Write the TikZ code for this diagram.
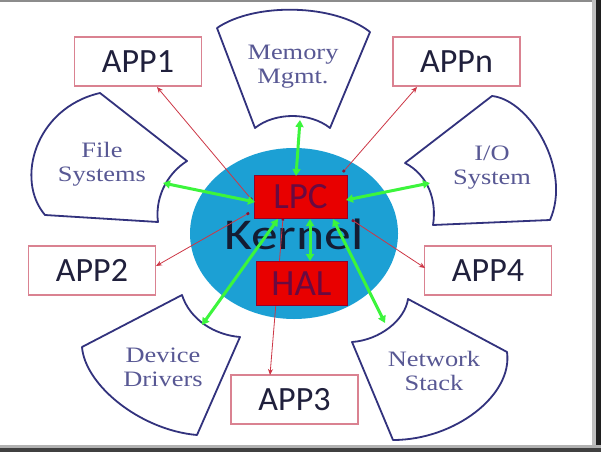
\documentclass[tikz,border=0pt]{standalone}
\usepackage{fontspec}
\setmainfont{Liberation Serif}
\newfontfamily\appfont{Carlito}
\newfontfamily\kernfont[FakeStretch=1.22]{Carlito}
\newfontfamily\blobfont[FakeStretch=1.2]{Liberation Serif}
\usetikzlibrary{arrows.meta}
\definecolor{kblue}{RGB}{28,160,212}
\definecolor{appred}{RGB}{218,130,145}
\definecolor{apptext}{RGB}{32,32,60}
\definecolor{linkred}{RGB}{205,55,70}
\definecolor{dotred}{RGB}{140,20,50}
\definecolor{gline}{RGB}{60,245,60}
\definecolor{blobline}{RGB}{50,50,125}
\definecolor{blobtext}{RGB}{88,88,148}
\definecolor{boxred}{RGB}{232,0,0}
\definecolor{boxedge}{RGB}{150,0,40}
\definecolor{boxtext}{RGB}{105,10,65}
\definecolor{kerntext}{RGB}{20,28,50}
\tikzset{
  appbox/.style={draw=appred, line width=1.2pt, fill=white, minimum width=127pt, minimum height=49pt,
    inner sep=0pt, text=apptext, font=\appfont\fontsize{34}{34}\selectfont},
  redbox/.style={draw=boxedge, line width=0.8pt, fill=boxred, inner sep=0pt, text=boxtext,
    font=\appfont\fontsize{37}{37}\selectfont},
  blob/.style={draw=blobline, line width=1.8pt, fill=white, line join=round},
  blobtxt/.style={text=blobtext, align=center, font=\blobfont\fontsize{22}{24}\selectfont},
  redlink/.style={draw=linkred, line width=0.8pt, {Square[length=2.5pt,width=2.5pt,fill=dotred,color=dotred]}-{Stealth[length=6pt,width=5pt]}},
  greenlink/.style={draw=gline, line width=3pt, {Triangle[length=7pt,width=8pt]}-{Triangle[length=7pt,width=8pt]}}
}
\begin{document}
\begin{tikzpicture}[x=1pt,y=-1pt]
\useasboundingbox (0,0) rectangle (601,452);
\fill[white] (0,0) rectangle (601,452);
% frame
\fill[black!45] (0,0) rectangle (601,2.5);
\fill[black!25] (592,0) rectangle (596,452);
\fill[black!88] (596,0) rectangle (601,452);
\fill[black!30] (0,445) rectangle (601,447.5);
\fill[black!75] (0,447.5) rectangle (601,452);

% blobs
\draw[blob] (217,28) .. controls (255,2) and (335,4) .. (370,32) -- (330,128)
  .. controls (310,112) and (275,112) .. (255,128) -- cycle;
\draw[blob] (100,93) -- (187,161) .. controls (165,175) and (155,200) .. (158,222)
  -- (45,215) .. controls (15,180) and (35,108) .. cycle;
\draw[blob] (405,163) -- (492,96) .. controls (530,100) and (572,170) .. (550,220)
  -- (433,225) .. controls (437,200) and (428,175) .. cycle;
\draw[blob] (182,295) .. controls (190,320) and (215,335) .. (240,337) -- (197,435)
  .. controls (140,430) and (85,385) .. (82,347) -- cycle;
\draw[blob] (352,342) .. controls (380,340) and (405,320) .. (408,299) -- (507,352)
  .. controls (513,395) and (455,440) .. (393,440) -- cycle;

\node[blobtxt] (mem) at (293,67) {Memory\\Mgmt.};
\node[blobtxt] (fs) at (102,164) {File\\Systems};
\node[blobtxt] (io) at (492,168) {I/O\\System};
\node[blobtxt] (dd) at (163,367) {Device\\Drivers};
\node[blobtxt] (ns) at (434,371) {Network\\Stack};

% kernel
\fill[kblue] (294,233.5) ellipse [x radius=104, y radius=85.5];
\node[anchor=base, text=kerntext, inner sep=0pt, font=\kernfont\fontsize{44}{44}\selectfont] (kernel) at (294,249) {Kernel};

% app boxes
\node[appbox] (app1) at (138,61.5) {APP1};
\node[appbox] (appn) at (456.5,61.5) {APPn};
\node[appbox] (app2) at (92,270.5) {APP2};
\node[appbox] (app4) at (488,270.5) {APP4};
\node[appbox] (app3) at (294.5,399.5) {APP3};

% connection points
\coordinate (l1) at (252,200);
\coordinate (ln) at (343,172);
\coordinate (l2) at (249,213);
\coordinate (l4) at (352,220);
\coordinate (l3) at (283,218);
\coordinate (a1) at (157,87);
\coordinate (an) at (417,87);
\coordinate (a2) at (156,266);
\coordinate (a4) at (425,268);
\coordinate (a3) at (270,375);

\draw[redlink] (l1) -- (a1);
\draw[redlink] (ln) -- (an);
\draw[redlink] (l2) -- (a2);
\draw[redlink] (l4) -- (a4);
\draw[redlink] (l3) -- (a3);

% kernel boxes
\node[redbox, minimum width=93pt, minimum height=43pt] (lpc) at (300.5,196.5) {LPC};
\node[redbox, minimum width=91pt, minimum height=44pt] (hal) at (301.5,283.5) {HAL};

% green links
\coordinate (gm) at (300,120);
\coordinate (gmk) at (296,176);
\coordinate (gf) at (163,183);
\coordinate (gfk) at (255,202);
\coordinate (gi) at (430,183);
\coordinate (gik) at (346,200);
\coordinate (gd) at (202,325);
\coordinate (gdk) at (278,219);
\coordinate (gn) at (385,323);
\coordinate (gnk) at (333,219);
\coordinate (ghk) at (310,219);
\coordinate (gh) at (310,261);

\draw[greenlink] (gm) -- (gmk);
\draw[greenlink] (gf) -- (gfk);
\draw[greenlink] (gi) -- (gik);
\draw[greenlink] (gd) -- (gdk);
\draw[greenlink] (gn) -- (gnk);
\draw[greenlink] (ghk) -- (gh);
\end{tikzpicture}
\end{document}
